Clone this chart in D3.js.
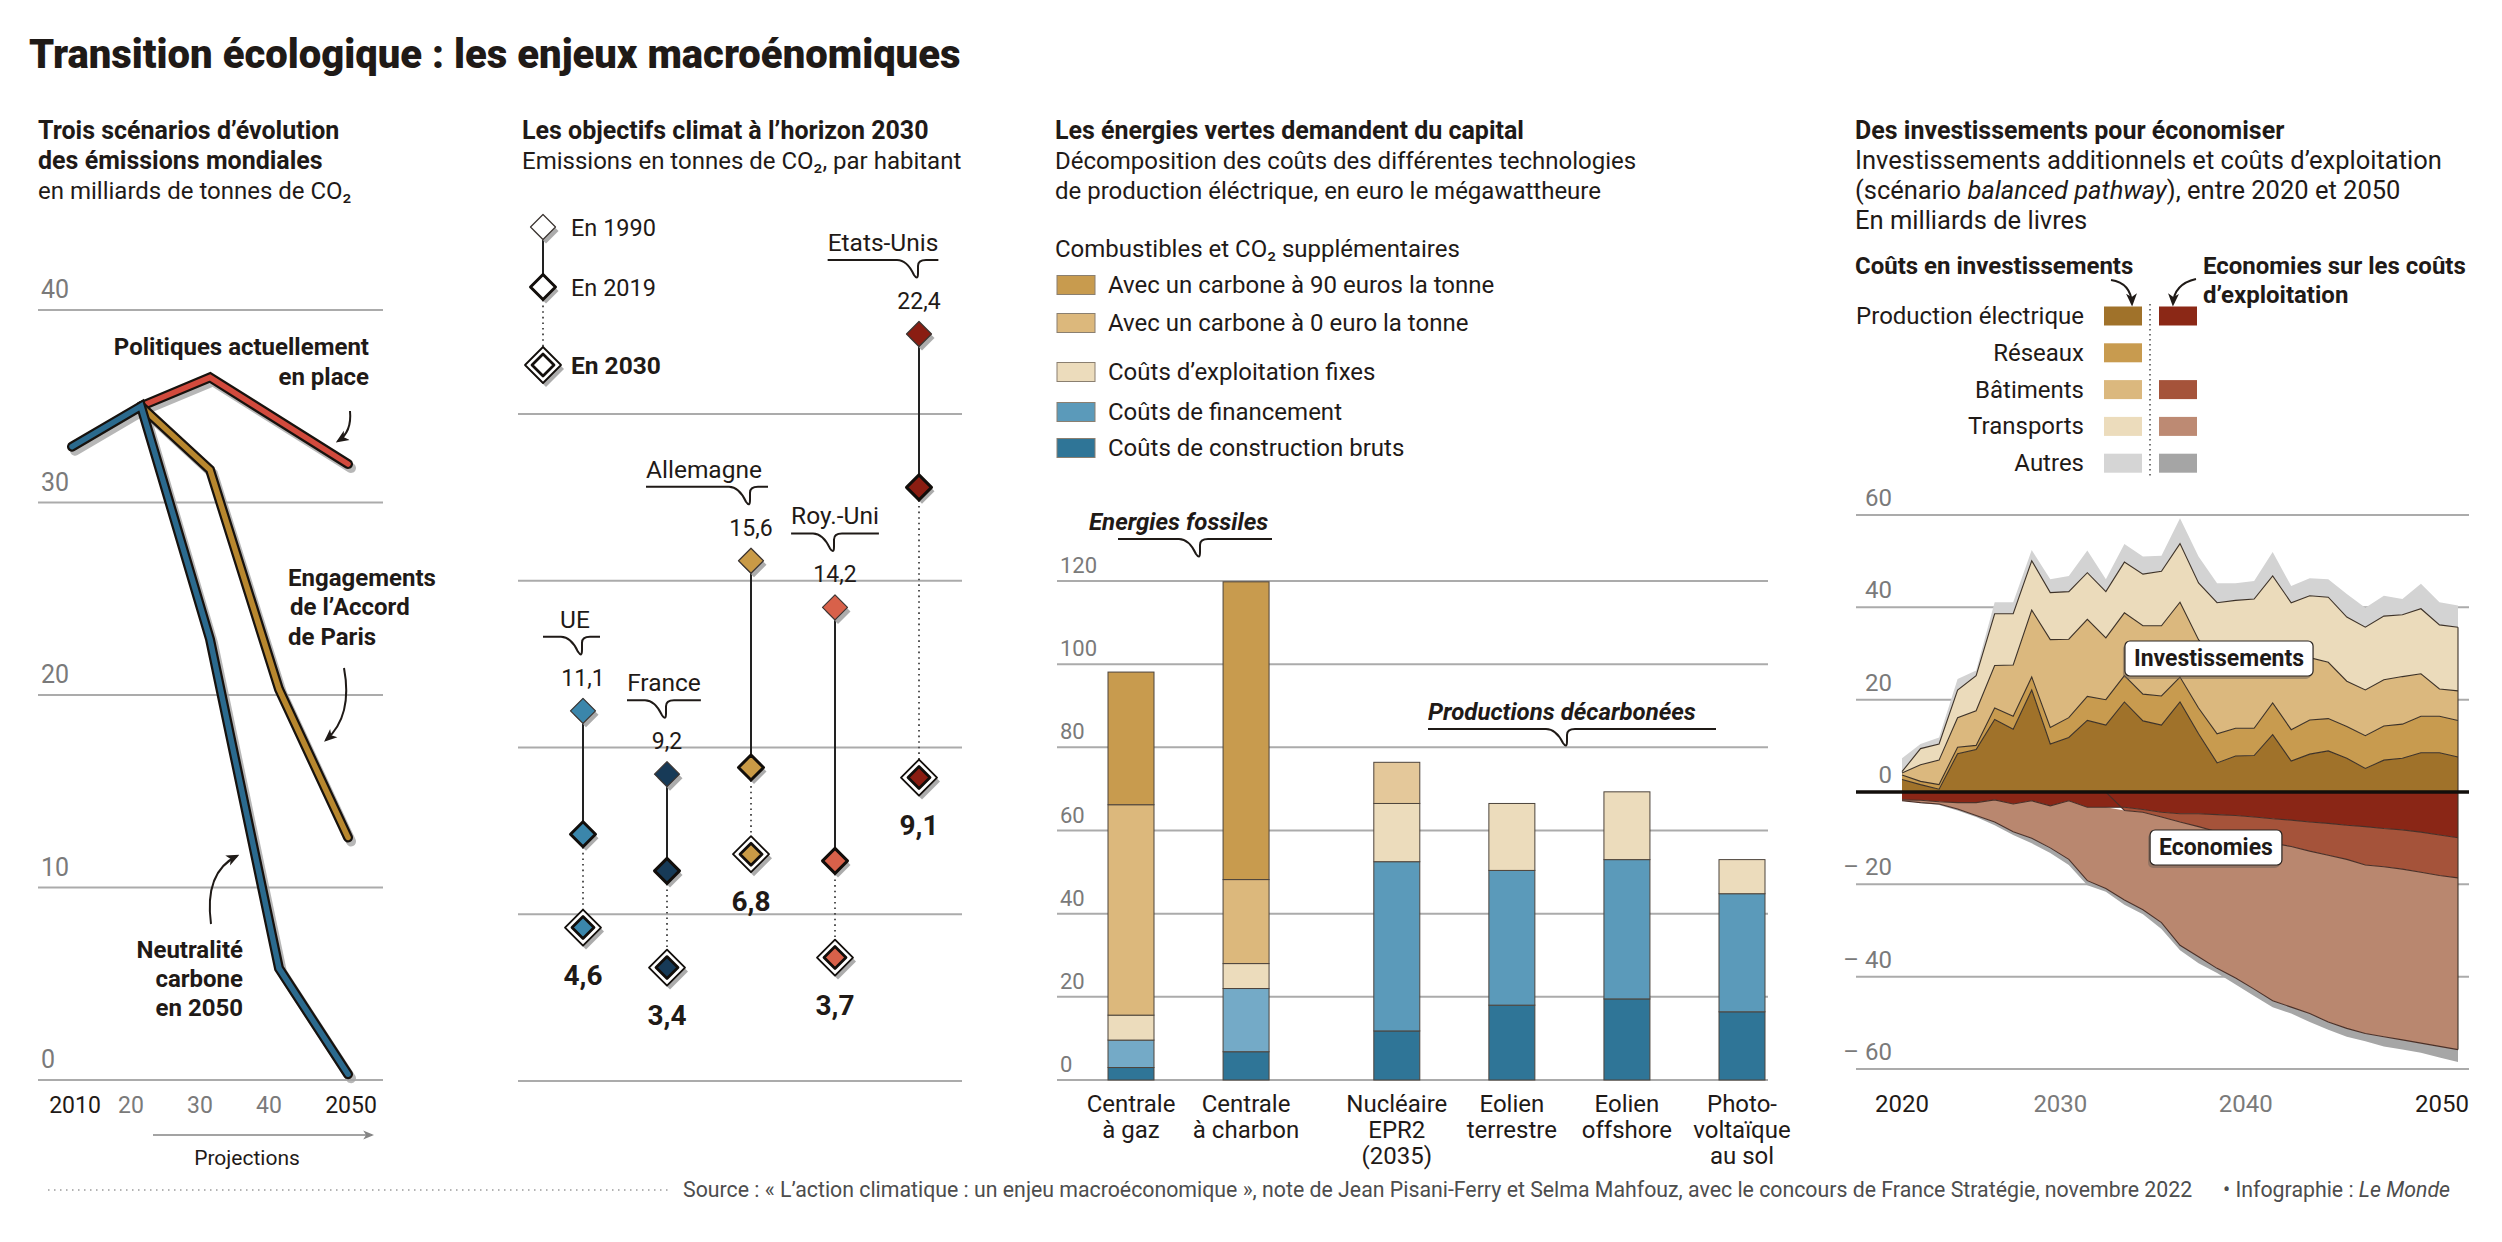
<!DOCTYPE html>
<html lang="fr"><head><meta charset="utf-8"><title>Transition écologique</title>
<script src="https://cdn.jsdelivr.net/npm/d3@7/dist/d3.min.js"></script>
<style>
html,body{margin:0;padding:0;background:#fff;}
svg{display:block;}
text{font-family:Roboto,"Noto Sans","Liberation Sans",sans-serif;}
</style></head><body>
<svg id="chart" width="2502" height="1242" xmlns="http://www.w3.org/2000/svg"></svg>
<script>
// ---------------- DATA ----------------
// Panel 1 : scénarios d'émissions mondiales (Gt CO2)
const p1Ticks = [0, 10, 20, 30, 40];
const p1Years = [2010, 2020, 2030, 2040, 2050];
const p1YearLabels = ["2010", "20", "30", "40", "2050"];
const polYears = [2020, 2030, 2050];
const polValues = [35.0, 36.5, 32.0];
const parisYears = [2020, 2030, 2040, 2050];
const parisValues = [35.0, 31.7, 20.3, 12.6];
const neutreYears = [2010, 2020, 2030, 2040, 2050];
const neutreValues = [32.9, 35.0, 22.9, 5.8, 0.3];

// Panel 2 : objectifs climat (t CO2 / habitant)
const countries = ["UE", "France", "Allemagne", "Roy.-Uni", "Etats-Unis"];
const em1990 = [11.1, 9.2, 15.6, 14.2, 22.4];
const em2019 = [7.4, 6.3, 9.4, 6.6, 17.8];
const em2030 = [4.6, 3.4, 6.8, 3.7, 9.1];
const countryColors = ["#3b86ab", "#173a57", "#c99a46", "#d8614a", "#8a1d12"];
const p2Ticks = [0, 5, 10, 15, 20];

// Panel 3 : coûts des technologies (€/MWh)
const techLabels = [["Centrale", "à gaz"], ["Centrale", "à charbon"], ["Nucléaire", "EPR2", "(2035)"],
                    ["Eolien", "terrestre"], ["Eolien", "offshore"], ["Photo-", "voltaïque", "au sol"]];
const techGroups = ["fossile", "fossile", "decarb", "decarb", "decarb", "decarb"];
const construction = [3.0, 6.8, 11.8, 18.0, 19.5, 16.4];
const financement = [6.6, 15.2, 40.7, 32.4, 33.5, 28.4];
const exploitation = [6.0, 6.0, 14.0, 16.1, 16.3, 8.2];
const combustible0 = [50.6, 20.2, 9.9, 0, 0, 0];
const carbone90 = [31.9, 71.6, 0, 0, 0, 0];
const p3Ticks = [0, 20, 40, 60, 80, 100, 120];

// Panel 4 : investissements et économies (Mds £)
const p4Years = [2020,2021,2022,2023,2024,2025,2026,2027,2028,2029,2030,2031,2032,2033,2034,2035,
                 2036,2037,2038,2039,2040,2041,2042,2043,2044,2045,2046,2047,2048,2049,2050];
const invProd   = [2.7,1.6,0.6,8.3,9.2,15.7,13.6,22.1,10.4,11.8,15.5,14.5,19.5,15.4,14.5,19.5,12.6,6.3,7.8,7.9,12.4,6.7,8.2,8.9,7.3,5.1,6.9,7.3,8.5,8.5,7.6];
const invRes    = [1.0,0.7,1.0,1.4,0.9,2.5,2.8,2.8,3.6,4.3,5.2,5.5,5.7,5.8,6.3,5.4,5.6,6.3,6.0,5.9,6.9,6.8,7.4,7.0,6.9,7.1,7.4,7.4,7.9,7.9,7.9];
const invBat    = [0.4,3.6,5.3,6.4,7.5,9.2,11.1,14.5,19.0,17.0,16.7,13.4,13.6,14.8,15.2,16.2,14.8,15.5,13.9,14.3,13.0,14.9,13.5,12.2,9.8,9.9,10.0,10.3,9.2,5.9,6.4];
const invTrans  = [0.3,3.5,3.5,6.0,7.6,11.2,11.1,10.7,10.2,10.3,10.1,10.0,11.0,11.2,11.8,12.7,12.3,12.9,13.8,13.7,14.5,12.6,13.4,14.1,13.9,13.6,13.8,13.4,14.1,13.9,13.8];
const invAutres = [2.9,1.0,1.4,2.4,1.1,2.5,2.5,2.3,2.9,3.4,4.8,2.7,3.9,3.8,3.4,5.5,5.7,4.2,3.7,3.9,5.2,3.6,3.8,3.9,5.0,4.2,4.4,3.4,5.4,4.9,4.7];
const savProd   = [-1.7,-1.8,-2.1,-2.3,-2.3,-1.7,-2.6,-1.9,-3.0,-1.9,-3.3,-3.3,-3.3,-3.8,-4.4,-4.7,-4.7,-4.9,-5.1,-5.4,-5.8,-6.1,-6.5,-6.8,-7.2,-7.5,-7.9,-8.2,-8.7,-9.3,-9.9];
const savBat    = [0,0,0,0,0,0,0,0,0,0,0,0,-0.7,-0.6,-1.0,-1.8,-2.8,-3.7,-4.5,-5.0,-5.3,-5.7,-6.3,-6.9,-7.4,-8.3,-8.3,-8.5,-8.7,-8.8,-8.7];
const savTrans  = [-0.2,-0.5,-0.5,-1.4,-2.8,-4.8,-6.0,-8.1,-9.1,-12.7,-15.9,-17.6,-19.4,-21.1,-22.9,-26.7,-28.2,-29.6,-30.7,-32.3,-34.1,-34.8,-35.2,-36.1,-36.6,-36.5,-36.8,-37.0,-37.0,-37.0,-37.2];
const savAutres = [0,-0.1,-0.2,-0.3,-0.3,-0.7,-0.7,-1.1,-1.1,-1.2,-1.0,-0.7,-1.0,-1.0,-1.4,-1.1,-1.4,-1.0,-1.4,-1.5,-1.4,-1.4,-1.8,-1.7,-1.8,-1.7,-2.1,-2.1,-2.1,-2.4,-2.7];
const p4Ticks = [60, 40, 20, -20, -40, -60];
const p4TickLabels = ["60", "40", "20", "– 20", "– 40", "– 60"];
const p4YearTicks = [2020, 2030, 2040, 2050];
const p4Legend = ["Production électrique", "Réseaux", "Bâtiments", "Transports", "Autres"];

// ---------------- DRAWING ----------------
const svg = d3.select('#chart');
svg.append('rect').attr('width', 2502).attr('height', 1242).attr('fill', '#fff');
const INK = '#1f1a17', TICK = '#7a7a7a', GRID = '#ababab';
const HEAD = 25, BODY = 24;
const defs = svg.append('defs');
function marker(id, color, size) {
  defs.append('marker').attr('id', id).attr('viewBox', '0 0 10 10')
    .attr('refX', 8).attr('refY', 5).attr('markerWidth', size).attr('markerHeight', size)
    .attr('markerUnits', 'userSpaceOnUse').attr('orient', 'auto')
    .append('path').attr('d', 'M0,0.8 L10,5 L0,9.2 L2.6,5 Z').attr('fill', color);
}
marker('ahInk', INK, 13);
marker('ahGrey', '#858585', 11);

function txt(g, x, y, s, o = {}) {
  const t = g.append('text').attr('x', x).attr('y', y)
    .attr('font-size', o.size || BODY).attr('font-weight', o.weight || 400)
    .attr('text-anchor', o.anchor || 'start').attr('fill', o.fill || INK);
  if (o.italic) t.attr('font-style', 'italic');
  if (s !== null) t.text(s);
  return t;
}
function hline(g, xa, xb, y, color, w) {
  return g.append('line').attr('x1', xa).attr('x2', xb).attr('y1', y).attr('y2', y)
    .attr('stroke', color).attr('stroke-width', w);
}
function bracket(g, x0, x1, dipX, by, depth) {
  const p = d3.path();
  p.moveTo(x0, by);
  p.lineTo(dipX - 22, by);
  p.quadraticCurveTo(dipX - 12, by, dipX - 5, by + depth - 4);
  p.quadraticCurveTo(dipX - 1, by + depth + 2, dipX - 1, by + depth - 6);
  p.lineTo(dipX - 1, by + 6);
  p.quadraticCurveTo(dipX - 1, by, dipX + 7, by);
  p.lineTo(x1, by);
  g.append('path').attr('d', p.toString()).attr('fill', 'none').attr('stroke', INK)
    .attr('stroke-width', 2).attr('stroke-linejoin', 'round');
}
function arrow(g, d, mk, color, w) {
  g.append('path').attr('d', d).attr('fill', 'none').attr('stroke', color)
    .attr('stroke-width', w).attr('marker-end', `url(#${mk})`);
}

// Title
txt(svg, 29, 68, "Transition écologique : les enjeux macroénomiques", { size: 40, weight: 900 });

// ---------- Panel 1 ----------
const g1 = svg.append('g');
txt(g1, 38, 139, "Trois scénarios d’évolution", { weight: 700, size: HEAD });
txt(g1, 38, 169, "des émissions mondiales", { weight: 700, size: HEAD });
txt(g1, 38, 199, "en milliards de tonnes de CO₂");
const x1 = d3.scaleLinear().domain([2010, 2050]).range([72, 348]);
const y1 = d3.scaleLinear().domain([0, 40]).range([1080, 310]);
p1Ticks.forEach(v => {
  hline(g1, 38, 383, y1(v), GRID, 2);
  txt(g1, 41, y1(v) - 12, String(v), { fill: TICK, size: 25 });
});
p1Years.forEach((yr, i) => {
  const edge = i === 0 || i === p1Years.length - 1;
  txt(g1, x1(yr) + (edge ? 3 : -10), 1113, p1YearLabels[i], { anchor: 'middle', fill: edge ? INK : TICK, size: 23 });
});
const scen = [
  { years: polYears, vals: polValues, color: '#d24a3d' },
  { years: parisYears, vals: parisValues, color: '#b8872e' },
  { years: neutreYears, vals: neutreValues, color: '#2b6a8e' }
];
const ln1 = d3.line().x(d => x1(d[0])).y(d => y1(d[1]));
scen.forEach(s => { s.pts = s.years.map((y, i) => [y, s.vals[i]]); });
scen.forEach(s => g1.append('path').attr('d', ln1(s.pts)).attr('transform', 'translate(3,4)')
  .attr('fill', 'none').attr('stroke', '#a5a5a5').attr('stroke-width', 10).attr('opacity', 0.8)
  .attr('stroke-linecap', 'round').attr('stroke-linejoin', 'miter'));
scen.forEach(s => {
  g1.append('path').attr('d', ln1(s.pts)).attr('fill', 'none').attr('stroke', '#17120e')
    .attr('stroke-width', 10).attr('stroke-linecap', 'round').attr('stroke-linejoin', 'miter');
  g1.append('path').attr('d', ln1(s.pts)).attr('fill', 'none').attr('stroke', s.color)
    .attr('stroke-width', 5.5).attr('stroke-linecap', 'round').attr('stroke-linejoin', 'miter');
});
txt(g1, 369, 355, "Politiques actuellement", { anchor: 'end', weight: 700 });
txt(g1, 369, 385, "en place", { anchor: 'end', weight: 700 });
arrow(g1, "M350,411 Q352,432 338,441", 'ahInk', INK, 2);
txt(g1, 288, 586, "Engagements", { weight: 700 });
txt(g1, 290, 615, "de l’Accord", { weight: 700 });
txt(g1, 288, 645, "de Paris", { weight: 700 });
arrow(g1, "M344,668 Q353,716 326,740", 'ahInk', INK, 2);
txt(g1, 243, 958, "Neutralité", { anchor: 'end', weight: 700 });
txt(g1, 243, 987, "carbone", { anchor: 'end', weight: 700 });
txt(g1, 243, 1016, "en 2050", { anchor: 'end', weight: 700 });
arrow(g1, "M211,924 Q204,872 237,856", 'ahInk', INK, 2);
arrow(g1, `M${x1(2020) + 12},1135 L${x1(2050) + 24},1135`, 'ahGrey', '#858585', 1.6);
txt(g1, 247, 1165, "Projections", { anchor: 'middle', size: 21 });

// ---------- Panel 2 ----------
const g2 = svg.append('g');
txt(g2, 522, 139, "Les objectifs climat à l’horizon 2030", { weight: 700, size: HEAD });
txt(g2, 522, 169, "Emissions en tonnes de CO₂, par habitant");
const x2 = d3.scalePoint().domain(countries).range([583, 919]);
const y2 = d3.scaleLinear().domain([0, 20]).range([1081, 414]);
p2Ticks.forEach(v => hline(g2, 518, 962, y2(v), GRID, 2));

function diamond(g, cx, cy, type, color) {
  const d = r => `M${cx},${cy - r} L${cx + r},${cy} L${cx},${cy + r} L${cx - r},${cy} Z`;
  const R = type === '2030' ? 18 : 12.5;
  g.append('path').attr('d', d(R)).attr('transform', 'translate(3,4)').attr('fill', '#9d9d9d').attr('opacity', 0.85);
  if (type === '1990') {
    g.append('path').attr('d', d(12.5)).attr('fill', color).attr('stroke', '#3a3330').attr('stroke-width', 1.2).attr('stroke-linejoin', 'round');
  } else if (type === '2019') {
    g.append('path').attr('d', d(12.5)).attr('fill', color).attr('stroke', '#120e0b').attr('stroke-width', 3).attr('stroke-linejoin', 'round');
  } else {
    g.append('path').attr('d', d(18)).attr('fill', '#fff').attr('stroke', '#120e0b').attr('stroke-width', 1.8).attr('stroke-linejoin', 'round');
    g.append('path').attr('d', d(11)).attr('fill', color).attr('stroke', '#120e0b').attr('stroke-width', 2.8).attr('stroke-linejoin', 'round');
  }
}
// legend
const lgx = 543, lgy = [227, 287, 365];
g2.append('line').attr('x1', lgx).attr('x2', lgx).attr('y1', lgy[0] + 12).attr('y2', lgy[1] - 12).attr('stroke', '#222').attr('stroke-width', 2);
g2.append('line').attr('x1', lgx).attr('x2', lgx).attr('y1', lgy[1] + 13).attr('y2', lgy[2] - 18).attr('stroke', '#555').attr('stroke-width', 2).attr('stroke-dasharray', '1.6,4');
diamond(g2, lgx, lgy[0], '1990', '#fff');
diamond(g2, lgx, lgy[1], '2019', '#fff');
diamond(g2, lgx, lgy[2], '2030', '#fff');
txt(g2, 571, 236, "En 1990", { size: 23.5 });
txt(g2, 571, 296, "En 2019", { size: 23.5 });
txt(g2, 571, 374, "En 2030", { size: 24.5, weight: 700 });

const nameShift = { "UE": -8, "France": -3, "Allemagne": -47, "Roy.-Uni": 0, "Etats-Unis": -36 };
countries.forEach((c, i) => {
  const cx = x2(c), a = y2(em1990[i]), b = y2(em2019[i]), e = y2(em2030[i]);
  g2.append('line').attr('x1', cx).attr('x2', cx).attr('y1', a + 12).attr('y2', b - 12).attr('stroke', '#222').attr('stroke-width', 2);
  g2.append('line').attr('x1', cx).attr('x2', cx).attr('y1', b + 13).attr('y2', e - 18).attr('stroke', '#555').attr('stroke-width', 2).attr('stroke-dasharray', '1.6,4');
});
countries.forEach((c, i) => {
  const cx = x2(c), col = countryColors[i];
  diamond(g2, cx, y2(em1990[i]), '1990', col);
  diamond(g2, cx, y2(em2019[i]), '2019', col);
  diamond(g2, cx, y2(em2030[i]), '2030', col);
  const vb = y2(em1990[i]) - 25;
  txt(g2, cx, vb, String(em1990[i]).replace('.', ','), { anchor: 'middle', size: 23 });
  txt(g2, cx, y2(em2030[i]) + 57, String(em2030[i]).replace('.', ','), { anchor: 'middle', size: 28, weight: 700 });
  const dipBottom = vb - 30, by = dipBottom - 19;
  const nt = txt(g2, cx + nameShift[c], by - 9, c, { anchor: 'middle', size: 24.5 });
  const bb = nt.node().getBBox();
  bracket(g2, Math.min(bb.x, cx - 40), Math.max(bb.x + bb.width, cx + 17), cx, by, 19);
});

// ---------- Panel 3 ----------
const g3 = svg.append('g');
txt(g3, 1055, 139, "Les énergies vertes demandent du capital", { weight: 700, size: HEAD });
txt(g3, 1055, 169, "Décomposition des coûts des différentes technologies");
txt(g3, 1055, 199, "de production éléctrique, en euro le mégawattheure");
txt(g3, 1055, 257, "Combustibles et CO₂ supplémentaires");
const p3Keys = ['construction', 'financement', 'exploitation', 'combustible0', 'carbone90'];
const p3Colors = { construction: '#2f7597', financement: '#5b9aba', exploitation: '#ecdcbc', combustible0: '#dcb87c', carbone90: '#c89b4e' };
const legend3 = [
  ['carbone90', "Avec un carbone à 90 euros la tonne", 285],
  ['combustible0', "Avec un carbone à 0 euro la tonne", 323],
  ['exploitation', "Coûts d’exploitation fixes", 372],
  ['financement', "Coûts de financement", 412],
  ['construction', "Coûts de construction bruts", 448]
];
legend3.forEach(([k, label, cy]) => {
  g3.append('rect').attr('x', 1057).attr('y', cy - 9.5).attr('width', 38).attr('height', 19)
    .attr('fill', p3Colors[k]).attr('stroke', '#8a7f70').attr('stroke-width', 1);
  txt(g3, 1108, cy + 8, label);
});
const y3 = d3.scaleLinear().domain([0, 120]).range([1080, 581]);
p3Ticks.forEach(v => {
  hline(g3, 1057, 1768, y3(v), GRID, 2);
  txt(g3, 1060, y3(v) - 8, String(v), { fill: TICK, size: 22 });
});
const groupGap = 0.31;
const slotOf = i => i + (techGroups[i] === 'decarb' ? groupGap : 0);
const xs3 = d3.scaleLinear().domain([0, 5 + groupGap]).range([1131, 1742]);
const barW = 46;
const rows3 = techLabels.map((t, i) => ({ i, construction: construction[i], financement: financement[i],
  exploitation: exploitation[i], combustible0: combustible0[i], carbone90: carbone90[i] }));
const stack3 = d3.stack().keys(p3Keys)(rows3);
stack3.forEach(layer => {
  layer.forEach(d => {
    if (d[1] - d[0] <= 0) return;
    const i = d.data.i;
    let fill = p3Colors[layer.key];
    if (layer.key === 'financement' && techGroups[i] === 'fossile') fill = '#74aac7';
    if (layer.key === 'combustible0' && techGroups[i] === 'decarb') fill = '#e4c89a';
    g3.append('rect').attr('x', xs3(slotOf(i)) - barW / 2).attr('width', barW)
      .attr('y', y3(d[1])).attr('height', y3(d[0]) - y3(d[1]))
      .attr('fill', fill).attr('stroke', '#4d443c').attr('stroke-width', 1);
  });
});
techLabels.forEach((lines, i) => {
  lines.forEach((l, k) => txt(g3, xs3(slotOf(i)), 1112 + k * 26, l, { anchor: 'middle' }));
});
txt(g3, 1089, 530, "Energies fossiles", { weight: 700, italic: true });
bracket(g3, 1118, 1272, 1201, 539, 19);
txt(g3, 1428, 720, "Productions décarbonées", { weight: 700, italic: true });
bracket(g3, 1428, 1716, 1568, 729, 18);

// ---------- Panel 4 ----------
const g4 = svg.append('g');
txt(g4, 1855, 139, "Des investissements pour économiser", { weight: 700, size: HEAD });
txt(g4, 1855, 169, "Investissements additionnels et coûts d’exploitation", { size: 25.5 });
const sub = txt(g4, 1855, 199, null, { size: 25.5 });
sub.append('tspan').text("(scénario ");
sub.append('tspan').attr('font-style', 'italic').text("balanced pathway");
sub.append('tspan').text("), entre  2020 et 2050");
txt(g4, 1855, 229, "En milliards de livres", { size: 25.5 });
txt(g4, 1855, 274, "Coûts en investissements", { weight: 700 });
txt(g4, 2203, 274, "Economies sur les coûts", { weight: 700 });
txt(g4, 2203, 303, "d’exploitation", { weight: 700 });
arrow(g4, "M2111,280 Q2131,283 2132,304", 'ahInk', INK, 2);
arrow(g4, "M2196,279 Q2174,284 2173,304", 'ahInk', INK, 2);
const invColors = ['#a0722a', '#c89b4f', '#dbb87e', '#ecdcbc', '#d5d5d5'];
const savColors = ['#8b2816', null, '#a5533a', '#bd8a73', '#a5a5a5'];
p4Legend.forEach((lab, k) => {
  const cy = 316 + k * 36.8;
  txt(g4, 2084, cy + 8, lab, { anchor: 'end' });
  g4.append('rect').attr('x', 2104).attr('y', cy - 9.5).attr('width', 38).attr('height', 19).attr('fill', invColors[k]);
  if (savColors[k]) g4.append('rect').attr('x', 2159).attr('y', cy - 9.5).attr('width', 38).attr('height', 19).attr('fill', savColors[k]);
});
g4.append('line').attr('x1', 2150).attr('x2', 2150).attr('y1', 304).attr('y2', 476)
  .attr('stroke', '#555').attr('stroke-width', 1.6).attr('stroke-dasharray', '1.5,3.5');

const x4 = d3.scaleLinear().domain([2020, 2050]).range([1902, 2458]);
const y4 = d3.scaleLinear().domain([-60, 60]).range([1069, 515]);
p4Ticks.forEach((v, k) => {
  hline(g4, 1856, 2469, y4(v), GRID, 2);
  txt(g4, 1892, y4(v) - 9, p4TickLabels[k], { anchor: 'end', fill: TICK });
});
txt(g4, 1892, y4(0) - 9, "0", { anchor: 'end', fill: TICK });
p4YearTicks.forEach((yr, k) => {
  const first = k === 0, last = k === p4YearTicks.length - 1;
  txt(g4, x4(yr) + (last ? 11 : 0), 1112, String(yr),
    { anchor: first ? 'middle' : 'end', size: 24, fill: (first || last) ? INK : TICK });
});
const invKeys = ['prod', 'res', 'bat', 'trans', 'autres'];
const rowsInv = p4Years.map((yr, i) => ({ year: yr, prod: invProd[i], res: invRes[i], bat: invBat[i], trans: invTrans[i], autres: invAutres[i] }));
const stackInv = d3.stack().keys(invKeys)(rowsInv);
const savKeys = ['prod', 'bat', 'trans', 'autres'];
const savCol = { prod: '#8a2616', bat: '#a5533a', trans: '#b9876f', autres: '#a6a6a6' };
const rowsSav = p4Years.map((yr, i) => ({ year: yr, prod: savProd[i], bat: savBat[i], trans: savTrans[i], autres: savAutres[i] }));
const stackSav = d3.stack().keys(savKeys).offset(d3.stackOffsetDiverging)(rowsSav);
const area4 = d3.area().x(d => x4(d.data.year)).y0(d => y4(d[0])).y1(d => y4(d[1]));
const lineTop = d3.line().x(d => x4(d.data.year)).y(d => y4(d[1]));
const lineBot = d3.line().x(d => x4(d.data.year)).y(d => y4(d[0]));
const invFill = { prod: '#a0722a', res: '#c89b4f', bat: '#dbb87e', trans: '#ebdbbb', autres: '#d3d3d3' };
stackInv.slice().reverse().forEach(layer => {
  g4.append('path').attr('d', area4(layer)).attr('fill', invFill[layer.key]);
});
stackSav.slice().reverse().forEach(layer => {
  g4.append('path').attr('d', area4(layer)).attr('fill', savCol[layer.key]);
});
stackInv.filter(l => l.key !== 'autres').forEach(layer => {
  g4.append('path').attr('d', lineTop(layer)).attr('fill', 'none').attr('stroke', '#3d3228').attr('stroke-width', 1.1);
});
stackSav.filter(l => l.key !== 'autres').forEach(layer => {
  g4.append('path').attr('d', lineBot(layer)).attr('fill', 'none').attr('stroke', '#4a3028').attr('stroke-width', 1.1);
});
const lastInv = stackInv[3][stackInv[3].length - 1], lastSav = stackSav[2][stackSav[2].length - 1];
g4.append('line').attr('x1', x4(2050)).attr('x2', x4(2050)).attr('y1', y4(lastInv[1])).attr('y2', y4(lastSav[0]))
  .attr('stroke', '#3d3228').attr('stroke-width', 1.1);
hline(g4, 1856, 2469, y4(0), '#120e0b', 3.5);
function boxLabel(g, cx, by, s) {
  const gg = g.append('g');
  const t = txt(gg, cx, by, s, { anchor: 'middle', weight: 700, size: 23 });
  const bb = t.node().getBBox();
  gg.insert('rect', 'text').attr('x', bb.x - 9).attr('y', bb.y - 4).attr('width', bb.width + 18).attr('height', bb.height + 8)
    .attr('rx', 5).attr('fill', '#fff').attr('stroke', '#2a2420').attr('stroke-width', 1.2);
  gg.insert('rect', 'rect').attr('x', bb.x - 11).attr('y', bb.y - 1).attr('width', bb.width + 18).attr('height', bb.height + 8)
    .attr('rx', 5).attr('fill', '#6b5f55').attr('opacity', 0.5);
}
boxLabel(g4, 2219, 666, "Investissements");
boxLabel(g4, 2216, 855, "Economies");

// ---------- Footer ----------
hline(svg, 48, 672, 1190, '#9a9a9a', 1.6).attr('stroke-dasharray', '1.5,4.5');
txt(svg, 683, 1197, "Source : « L’action climatique : un enjeu macroéconomique », note de Jean Pisani-Ferry et Selma Mahfouz, avec le concours de France Stratégie, novembre 2022", { size: 21.3, fill: '#4d4d4d' });
const inf = txt(svg, 2450, 1197, null, { anchor: 'end', size: 21.3, fill: '#4d4d4d' });
inf.append('tspan').text("• Infographie : ");
inf.append('tspan').attr('font-style', 'italic').text("Le Monde");
</script></body></html>
